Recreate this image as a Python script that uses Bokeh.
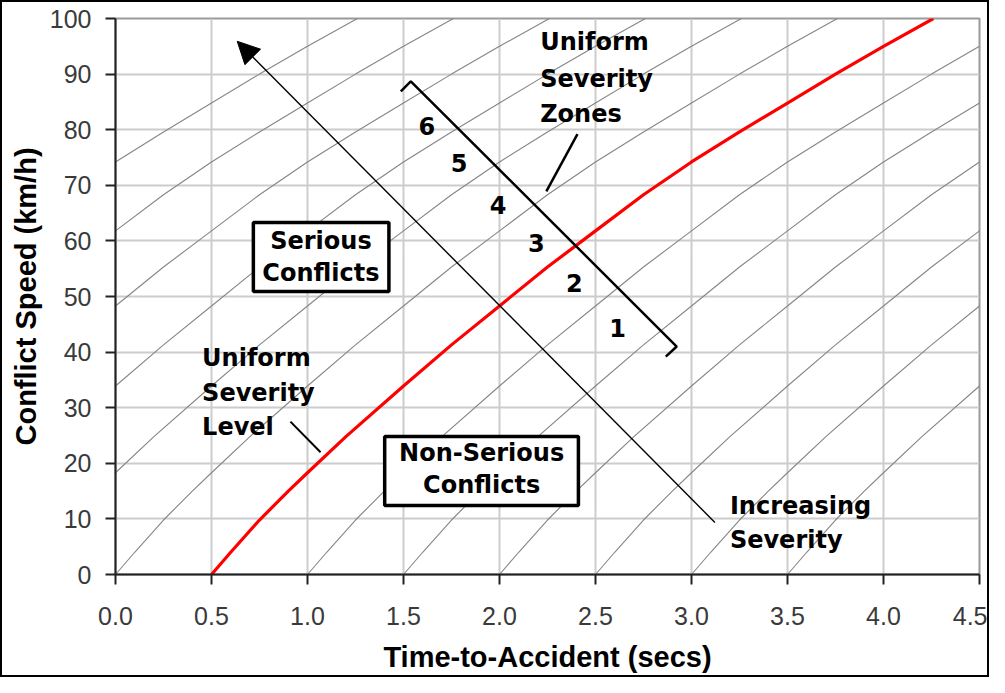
from bokeh.plotting import figure
from bokeh.models import Range1d, Arrow, NormalHead, ColumnDataSource, FixedTicker
from bokeh.core.properties import value
from bokeh.embed import file_html
from bokeh.resources import INLINE

# ---- data ----
# red "uniform severity level" curve (time-to-accident secs, conflict speed km/h)
red_t = [0.5, 0.6, 0.75, 0.9, 1.0, 1.2, 1.5, 1.75, 2.0, 2.25, 2.5, 2.75, 3.0, 3.25, 3.5, 3.75, 4.0, 4.26]
red_v = [0.0, 4.0, 9.8, 15.0, 18.3, 24.8, 33.9, 41.3, 48.3, 55.3, 61.8, 68.3, 74.2, 79.6, 84.8, 90.0, 95.0, 100.0]
# the grey curves are the same shape shifted along the time axis (secs)
grey_shifts = [-3.0, -2.5, -2.0, -1.5, -1.0, -0.5, 0.5, 1.0, 1.5, 2.0, 2.5, 3.0]

x_ticks = [0.0, 0.5, 1.0, 1.5, 2.0, 2.5, 3.0, 3.5, 4.0, 4.5]
x_tick_labels = ["0.0", "0.5", "1.0", "1.5", "2.0", "2.5", "3.0", "3.5", "4.0", "4.5"]
y_ticks = [0, 10, 20, 30, 40, 50, 60, 70, 80, 90, 100]

zone_numbers = ["6", "5", "4", "3", "2", "1"]
zone_x = [1.622, 1.789, 1.993, 2.192, 2.390, 2.615]
zone_y = [80.6, 74.1, 66.4, 59.6, 52.5, 44.4]

# ---- figure ----
p = figure(width=989, height=677, x_range=Range1d(0, 4.5), y_range=Range1d(0, 100),
           output_backend="svg", toolbar_location=None,
           min_border_left=113, min_border_right=12, min_border_top=16, min_border_bottom=105)
p.styles = {"border": "2px solid black"}
p.background_fill_color = "white"
p.border_fill_color = "white"
p.outline_line_color = "#9a9a9a"
p.outline_line_width = 2

p.xaxis.ticker = FixedTicker(ticks=x_ticks)
p.yaxis.ticker = FixedTicker(ticks=y_ticks)
p.xaxis.major_label_overrides = {t: l for t, l in zip(x_ticks, x_tick_labels)}
p.xgrid.ticker = FixedTicker(ticks=x_ticks)
p.ygrid.ticker = FixedTicker(ticks=y_ticks)
for g in (p.xgrid, p.ygrid):
    g.grid_line_color = "#cccccc"
    g.grid_line_width = 2

for ax in (p.xaxis, p.yaxis):
    ax.axis_line_color = "#222222"
    ax.axis_line_width = 2
    ax.major_tick_line_color = "#222222"
    ax.major_tick_line_width = 2
    ax.major_tick_out = 10
    ax.major_tick_in = 0
    ax.minor_tick_line_color = None
    ax.major_label_text_font = "Liberation Sans"
    ax.major_label_text_font_size = "25px"
    ax.major_label_text_color = "#3a3a3a"
    ax.axis_label_text_font = "Liberation Sans"
    ax.axis_label_text_font_style = "bold"
    ax.axis_label_text_font_size = "29px"
    ax.axis_label_text_color = "black"

p.xaxis.axis_label = "Time-to-Accident (secs)"
p.yaxis.axis_label = "Conflict Speed (km/h)"
p.xaxis.major_label_standoff = 22
p.yaxis.major_label_standoff = 14
p.xaxis.axis_label_standoff = 13
p.yaxis.axis_label_standoff = 5

# grey family of curves
for s in grey_shifts:
    p.line([t + s for t in red_t], red_v, line_color="#858585", line_width=1.1)

# red curve
p.line(red_t, red_v, line_color="#ff0000", line_width=3.2)

# increasing severity arrow
p.add_layout(Arrow(x_start=3.122, y_start=9.36, x_end=0.634, y_end=95.9,
                   line_color="black", line_width=1.4,
                   end=NormalHead(size=22, fill_color="black", line_color="black")))

# uniform severity zones bracket
p.line([1.486, 1.538, 2.923, 2.866], [86.9, 88.7, 41.0, 39.2], line_color="black", line_width=2.5)
# leader lines
p.line([2.406, 2.244], [79.2, 68.9], line_color="black", line_width=2.5)
p.line([0.911, 1.068], [27.5, 22.0], line_color="black", line_width=2)

# boxes
p.quad(left=[0.718, 1.402], right=[1.424, 2.411], top=[63.3, 24.8], bottom=[50.9, 12.4],
       fill_color="white", line_color="black", line_width=3.5)

font = value("DejaVu Sans")
left_texts = ColumnDataSource(dict(
    x=[2.212, 2.212, 2.212, 0.451, 0.451, 0.451, 3.200, 3.200],
    y=[95.7, 89.2, 82.9, 39.0, 32.7, 26.6, 12.3, 6.2],
    t=["Uniform", "Severity", "Zones", "Uniform", "Severity", "Level", "Increasing", "Severity"]))
p.text(x="x", y="y", text="t", source=left_texts, text_font=font, text_font_style="bold",
       text_font_size="24px", text_color="black", text_align="left", text_baseline="alphabetic")

box_texts = ColumnDataSource(dict(
    x=[1.070, 1.070, 1.907, 1.907],
    y=[60.0, 54.2, 21.8, 16.1],
    t=["Serious", "Conflicts", "Non-Serious", "Conflicts"]))
p.text(x="x", y="y", text="t", source=box_texts, text_font=font, text_font_style="bold",
       text_font_size="24px", text_color="black", text_align="center", text_baseline="alphabetic")

p.text(x=zone_x, y=zone_y, text=zone_numbers, text_font=font, text_font_style="bold",
       text_font_size="24px", text_color="black", text_align="center", text_baseline="middle")

open("out.html", "w").write(file_html(p, INLINE))
